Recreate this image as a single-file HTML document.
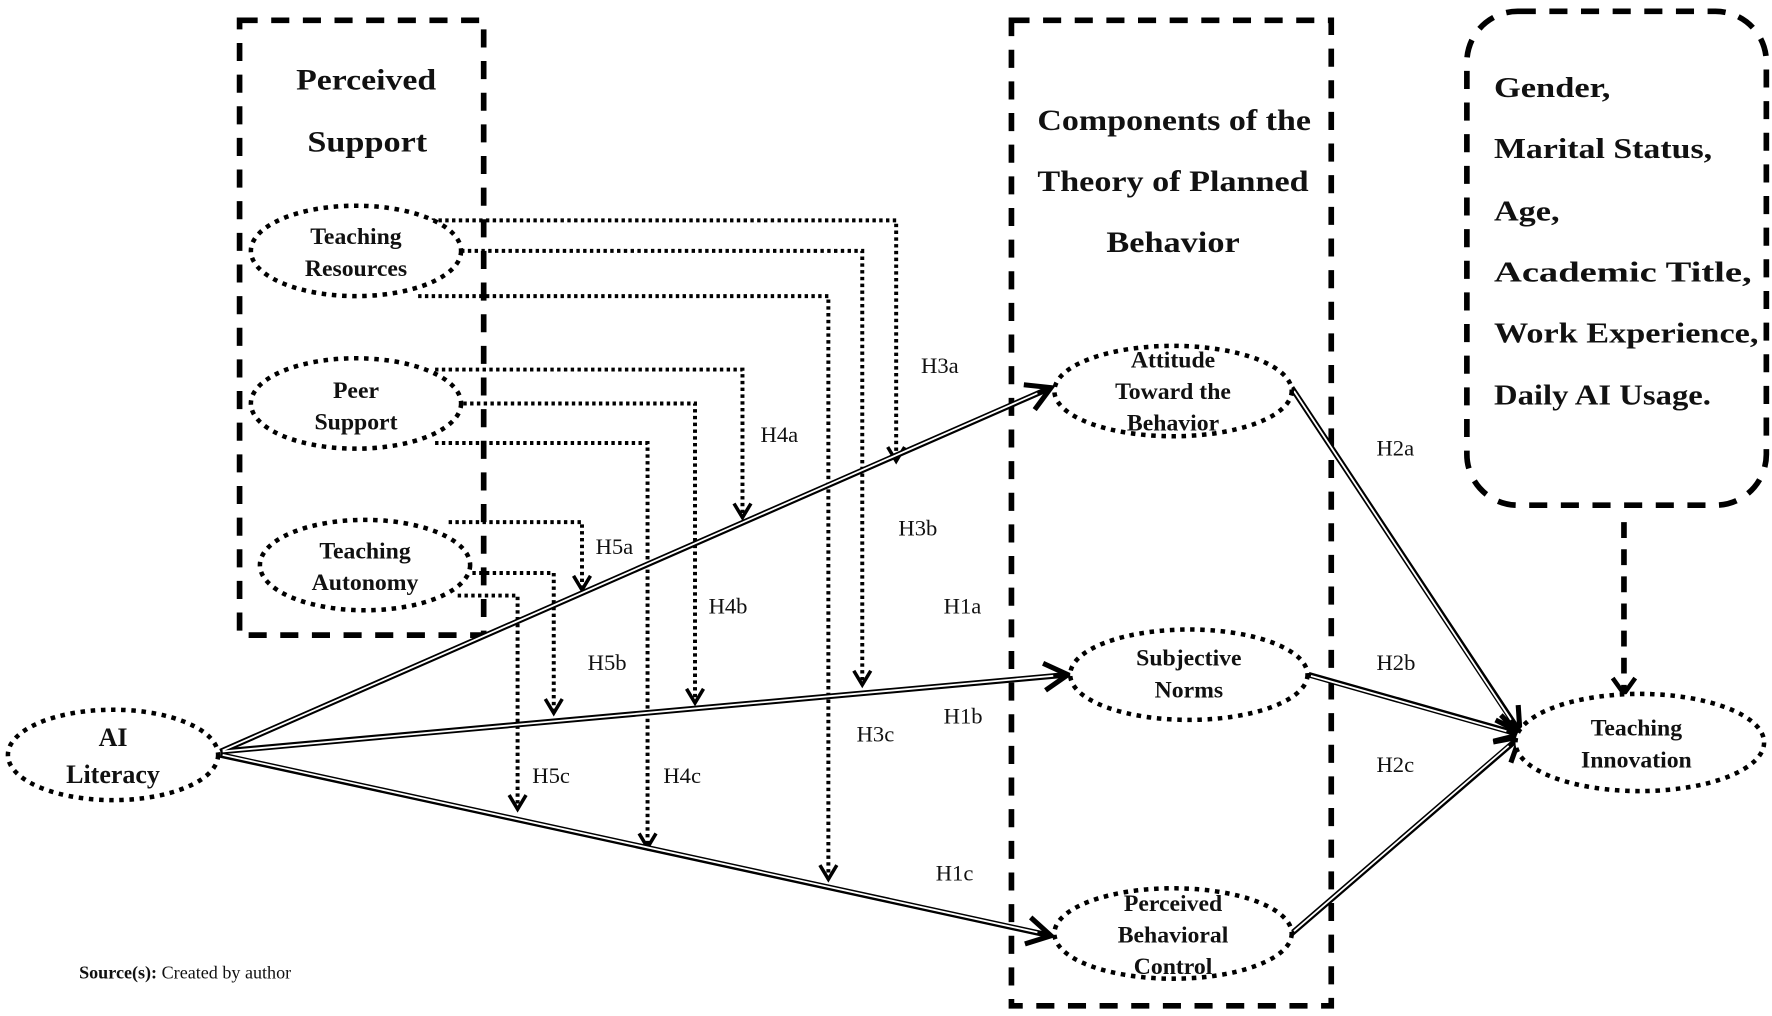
<!DOCTYPE html>
<html><head><meta charset="utf-8"><style>
html,body{margin:0;padding:0;background:#fff;}
svg{display:block;}
text{font-family:"Liberation Serif",serif;fill:#111;}
.b{font-weight:bold;}
</style></head><body>
<svg width="1772" height="1016" viewBox="0 0 1568 899" xmlns="http://www.w3.org/2000/svg">
<defs>
<marker id="ah" markerUnits="userSpaceOnUse" markerWidth="30" markerHeight="30" refX="16" refY="10" orient="auto" viewBox="0 0 20 20">
<path d="M2,2 L16,10 L2,18" fill="none" stroke="#000" stroke-width="3"/>
</marker>
<marker id="ad" markerUnits="userSpaceOnUse" markerWidth="20" markerHeight="20" refX="12" refY="8" orient="auto" viewBox="0 0 16 16">
<path d="M2,2 L12,8 L2,14" fill="none" stroke="#000" stroke-width="2.5"/>
</marker>
</defs>
<rect width="1568" height="899" fill="#fff"/>

<rect x="212" y="18" width="216" height="544" fill="none" stroke="#000" stroke-width="5" stroke-dasharray="16 12"/>
<rect x="895" y="18" width="283" height="872" fill="none" stroke="#000" stroke-width="5" stroke-dasharray="16 12"/>
<rect x="1298" y="10" width="265" height="437" rx="45" fill="none" stroke="#000" stroke-width="5" stroke-dasharray="16 12"/>

<text class="b" x="262" y="79" font-size="26" textLength="124" lengthAdjust="spacingAndGlyphs">Perceived</text>
<text class="b" x="272" y="134" font-size="26" textLength="106" lengthAdjust="spacingAndGlyphs">Support</text>
<text class="b" x="918" y="115" font-size="26" textLength="242" lengthAdjust="spacingAndGlyphs">Components of the</text>
<text class="b" x="918" y="169" font-size="26" textLength="240" lengthAdjust="spacingAndGlyphs">Theory of Planned</text>
<text class="b" x="979" y="223" font-size="26" textLength="118" lengthAdjust="spacingAndGlyphs">Behavior</text>
<g font-size="25">
<text class="b" x="1322" y="86" textLength="103" lengthAdjust="spacingAndGlyphs">Gender,</text>
<text class="b" x="1322" y="140" textLength="193" lengthAdjust="spacingAndGlyphs">Marital Status,</text>
<text class="b" x="1322" y="195" textLength="58" lengthAdjust="spacingAndGlyphs">Age,</text>
<text class="b" x="1322" y="249" textLength="228" lengthAdjust="spacingAndGlyphs">Academic Title,</text>
<text class="b" x="1322" y="303" textLength="234" lengthAdjust="spacingAndGlyphs">Work Experience,</text>
<text class="b" x="1322" y="358" textLength="192" lengthAdjust="spacingAndGlyphs">Daily AI Usage.</text>
</g>

<g fill="none" stroke="#000" stroke-width="3.5" stroke-dasharray="3 3">
<polyline points="370,195 793,195 793,408" marker-end="url(#ad)"/>
<polyline points="408,222 763,222 763,606" marker-end="url(#ad)"/>
<polyline points="370,262 733,262 733,778" marker-end="url(#ad)"/>
<polyline points="385,327 657,327 657,458" marker-end="url(#ad)"/>
<polyline points="410,357 615,357 615,622" marker-end="url(#ad)"/>
<polyline points="385,392 573,392 573,750" marker-end="url(#ad)"/>
<polyline points="397,462 515,462 515,522" marker-end="url(#ad)"/>
<polyline points="418,507 490,507 490,631" marker-end="url(#ad)"/>
<polyline points="405,527 458,527 458,716" marker-end="url(#ad)"/>
</g>

<g fill="none">
<g stroke="#000" stroke-width="5">
<line x1="195" y1="665" x2="930" y2="343" marker-end="url(#ah)"/>
<line x1="195" y1="665" x2="945" y2="597" marker-end="url(#ah)"/>
<line x1="195" y1="668" x2="930" y2="828" marker-end="url(#ah)"/>
<line x1="1143" y1="343" x2="1345" y2="648" marker-end="url(#ah)"/>
<line x1="1158" y1="597" x2="1345" y2="650" marker-end="url(#ah)"/>
<line x1="1143" y1="826" x2="1345" y2="652" marker-end="url(#ah)"/>
</g>
<g stroke="#fff" stroke-width="1.6">
<line x1="197" y1="664" x2="918" y2="348"/>
<line x1="197" y1="665" x2="932" y2="598"/>
<line x1="197" y1="668" x2="918" y2="825"/>
<line x1="1145" y1="346" x2="1337" y2="637"/>
<line x1="1160" y1="598" x2="1333" y2="647"/>
<line x1="1145" y1="824" x2="1335" y2="660"/>
</g>
</g>

<line x1="1437" y1="462" x2="1437" y2="612" stroke="#000" stroke-width="5" stroke-dasharray="14 10"/>
<path d="M1427,600 L1437,614 L1447,600" fill="none" stroke="#000" stroke-width="4"/>

<g fill="#fff" stroke="#000" stroke-width="4" stroke-dasharray="4 5">
<ellipse cx="315" cy="222" rx="93" ry="40"/>
<ellipse cx="315" cy="357" rx="93" ry="40"/>
<ellipse cx="323" cy="500" rx="93" ry="40"/>
<ellipse cx="100" cy="668" rx="93" ry="40"/>
<ellipse cx="1038" cy="346" rx="105" ry="40"/>
<ellipse cx="1052" cy="597" rx="105" ry="40"/>
<ellipse cx="1038" cy="826" rx="105" ry="40"/>
<ellipse cx="1451" cy="657" rx="110" ry="43"/>
</g>

<g font-size="21" text-anchor="middle">
<text class="b" x="315" y="216">Teaching</text><text class="b" x="315" y="244">Resources</text>
<text class="b" x="315" y="352">Peer</text><text class="b" x="315" y="380">Support</text>
<text class="b" x="323" y="494">Teaching</text><text class="b" x="323" y="522">Autonomy</text>
<text class="b" x="100" y="660" font-size="23">AI</text><text class="b" x="100" y="693" font-size="23">Literacy</text>
<text class="b" x="1038" y="325">Attitude</text><text class="b" x="1038" y="353">Toward the</text><text class="b" x="1038" y="381">Behavior</text>
<text class="b" x="1052" y="589">Subjective</text><text class="b" x="1052" y="617">Norms</text>
<text class="b" x="1038" y="806">Perceived</text><text class="b" x="1038" y="834">Behavioral</text><text class="b" x="1038" y="862">Control</text>
<text class="b" x="1448" y="651">Teaching</text><text class="b" x="1448" y="679">Innovation</text>
</g>

<g font-size="20">
<text x="815" y="330">H3a</text>
<text x="795" y="474">H3b</text>
<text x="758" y="656">H3c</text>
<text x="673" y="391">H4a</text>
<text x="627" y="543">H4b</text>
<text x="587" y="693">H4c</text>
<text x="527" y="490">H5a</text>
<text x="520" y="593">H5b</text>
<text x="471" y="693">H5c</text>
<text x="835" y="543">H1a</text>
<text x="835" y="640">H1b</text>
<text x="828" y="779">H1c</text>
<text x="1218" y="403">H2a</text>
<text x="1218" y="593">H2b</text>
<text x="1218" y="683">H2c</text>
</g>
<text x="70" y="866" font-size="16"><tspan font-weight="bold">Source(s):</tspan> Created by author</text>
</svg>
</body></html>
